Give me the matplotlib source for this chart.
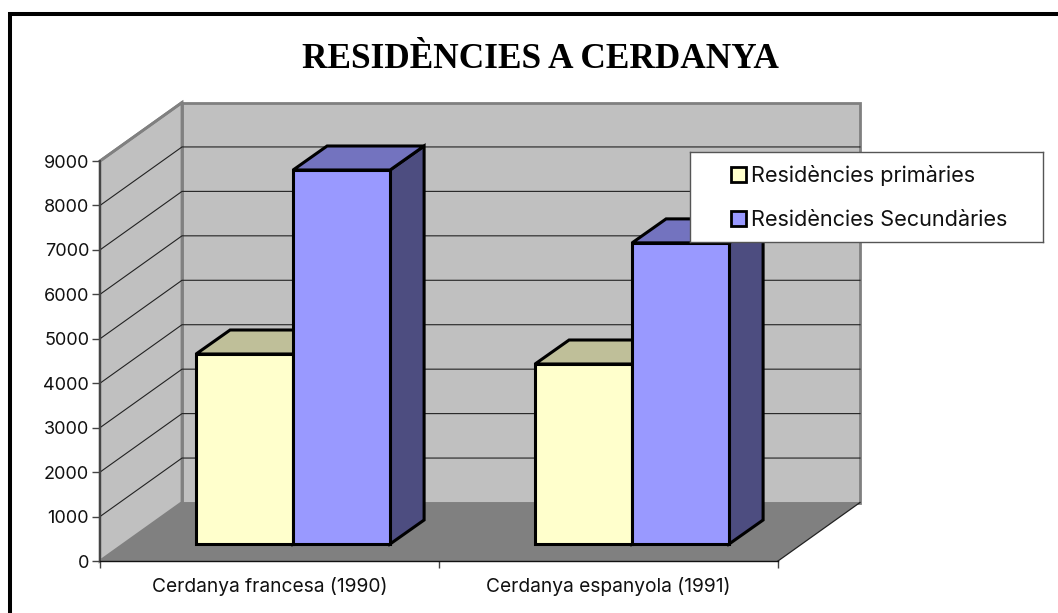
import matplotlib
matplotlib.use("Agg")
import matplotlib.pyplot as plt
from matplotlib.lines import Line2D
from matplotlib.patches import Polygon, Rectangle

# values
categories = ["Cerdanya francesa (1990)", "Cerdanya espanyola (1991)"]
primaries = [4275, 4050]
secundaries = [8415, 6775]
series_names = ["Residències primàries", "Residències Secundàries"]
yticks = list(range(0, 10000, 1000))

W, H = 1058, 613
# front plane of the 3d box, in pixels
LEFT, RIGHT, BOTTOM, TOP = 100, 778, 561, 161
PX_X = 2 / (RIGHT - LEFT)
PX_Y = 9000 / (BOTTOM - TOP)
DX, DY = 82 * PX_X, 58.5 * PX_Y      # box depth
BAR_DX, BAR_DY = 34 * PX_X, 24 * PX_Y   # bar depth
SHIFT_X, SHIFT_Y = 23.6 * PX_X, 17 * PX_Y  # bars stand inside the box
BAR_W = 97 * PX_X

WALL = "#c0c0c0"
WALL_EDGE = "#808080"
FLOOR = "#808080"
GRID = "#222222"
TEXT = "#111111"

plt.rcParams["font.family"] = ["Inter", "Liberation Sans"]

fig = plt.figure(figsize=(W / 100, H / 100), dpi=100, facecolor="white")

# outer frame, only top and left are inside the picture
fig.add_artist(Line2D([10 / W, 10 / W, 1], [0, 1 - 14 / H, 1 - 14 / H], color="black",
                      linewidth=2.9, solid_joinstyle="miter", solid_capstyle="butt"))

ax = fig.add_axes([LEFT / W, 1 - BOTTOM / H, (RIGHT - LEFT) / W, (BOTTOM - TOP) / H])
ax.set_xlim(0, 2)
ax.set_ylim(0, 9000)
ax.patch.set_visible(False)


def poly(pts, fc, ec="none", lw=0, z=1):
    ax.add_patch(Polygon(pts, closed=True, facecolor=fc, edgecolor=ec, linewidth=lw,
                         zorder=z, clip_on=False, joinstyle="miter"))


# walls and floor
poly([(DX, DY), (2 + DX, DY), (2 + DX, 9000 + DY), (DX, 9000 + DY)], WALL, WALL_EDGE, 2.0, 1)
poly([(0, 0), (DX, DY), (DX, 9000 + DY), (0, 9000)], WALL, WALL_EDGE, 2.0, 1)
poly([(0, 0), (2, 0), (2 + DX, DY), (DX, DY)], FLOOR, z=1.5)
ax.plot([2, 2 + DX], [0, DY], color="#222222", lw=0.9, zorder=1.6, clip_on=False)

# gridlines on both walls
for v in yticks[1:-1]:
    ax.plot([0, DX, 2 + DX], [v, v + DY, v + DY], color=GRID, lw=0.8, zorder=1.2, clip_on=False)
ax.plot([0, DX], [9000, 9000 + DY], color=WALL_EDGE, lw=2.0, zorder=1.3, clip_on=False)


def bar3d(x0, value, front, top, side, z):
    x0 += SHIFT_X
    x1 = x0 + BAR_W
    y0 = SHIFT_Y
    y1 = y0 + value
    poly([(x1, y0), (x1 + BAR_DX, y0 + BAR_DY), (x1 + BAR_DX, y1 + BAR_DY), (x1, y1)],
         side, "black", 2.2, z)
    poly([(x0, y1), (x1, y1), (x1 + BAR_DX, y1 + BAR_DY), (x0 + BAR_DX, y1 + BAR_DY)],
         top, "black", 2.2, z)
    poly([(x0, y0), (x1, y0), (x1, y1), (x0, y1)], front, "black", 2.2, z + 0.1)


for i in range(len(categories)):
    bar3d(i + 0.5 - BAR_W, primaries[i], "#ffffcc", "#bfbf99", "#7f7f66", 2)
    bar3d(i + 0.5, secundaries[i], "#9999ff", "#7373bf", "#4d4d80", 3)

# axes
for s in ("top", "right"):
    ax.spines[s].set_visible(False)
ax.spines["left"].set_color("#444444")
ax.spines["left"].set_linewidth(1.4)
ax.spines["left"].set_zorder(4)
ax.spines["bottom"].set_color("#111111")
ax.spines["bottom"].set_linewidth(1.0)
ax.spines["bottom"].set_zorder(4)
ax.set_yticks(yticks)
ax.tick_params(axis="y", length=5.8, width=1.0, color="#444444", labelsize=13, labelcolor=TEXT, pad=2)
ax.set_xticks([0, 1, 2])
ax.set_xticklabels([])
ax.tick_params(axis="x", length=5, width=1.0, color="#444444")
for i, c in enumerate(categories):
    ax.annotate(c, (i + 0.5, 0), xytext=(0, -22.3), textcoords="offset points", ha="center", va="baseline",
                fontsize=13.8, color=TEXT, annotation_clip=False)

# title
fig.text(540.5 / W, 1 - 67.5 / H, "RESIDÈNCIES A CERDANYA", family="Liberation Serif", fontweight="bold",
         fontsize=25.4, color="black", ha="center", va="baseline")

# legend box
lax = fig.add_axes([690 / W, 1 - 242 / H, 353 / W, 90 / H], zorder=10)
lax.set_xlim(690, 1043)
lax.set_ylim(242, 152)
lax.set_xticks([])
lax.set_yticks([])
for s in lax.spines.values():
    s.set_color("#555555")
    s.set_linewidth(1.0)
for name, color, yc in zip(series_names, ["#ffffcc", "#9999ff"], [175, 219]):
    lax.add_patch(Rectangle((730.5, yc - 7.5), 15, 15, facecolor=color, edgecolor="black", linewidth=2))
    lax.text(751, yc + 7, name, fontsize=15.6, color=TEXT, va="baseline", ha="left")

fig.savefig("out.png", dpi=100)
